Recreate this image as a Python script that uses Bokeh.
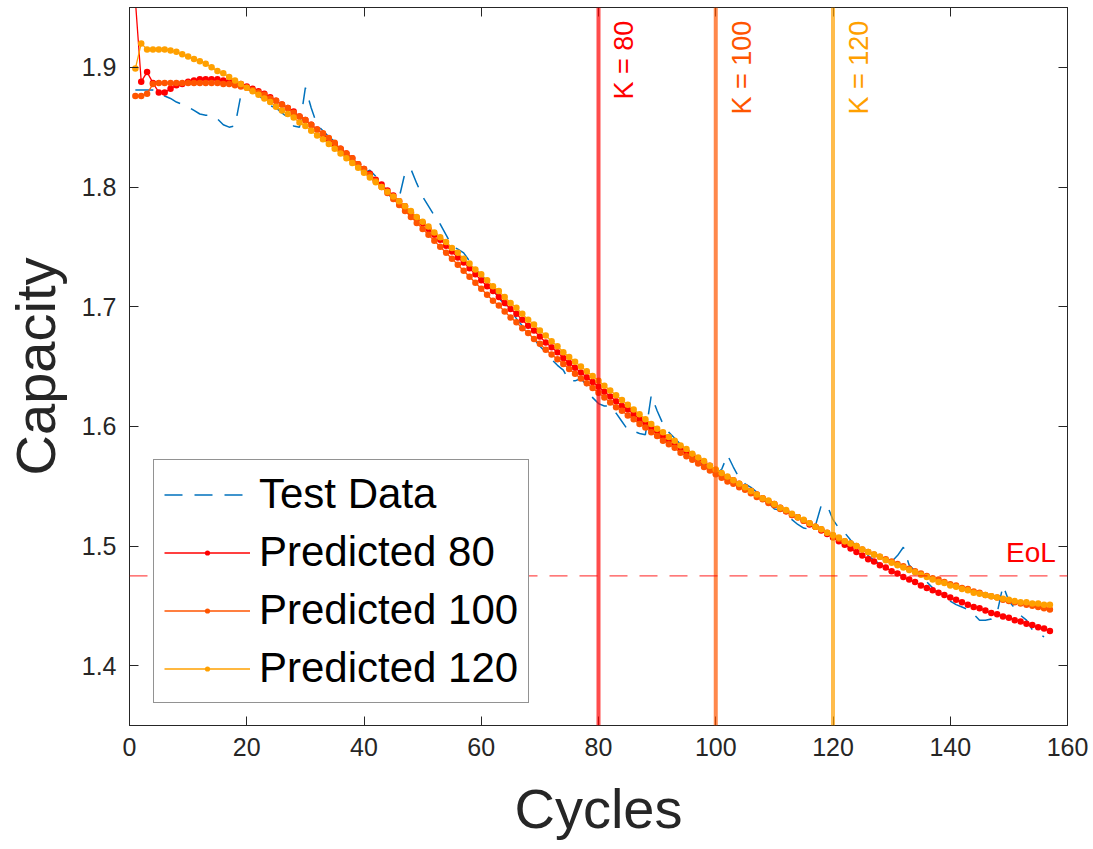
import math
from bokeh.plotting import figure
from bokeh.models import (Range1d, LinearAxis, Span, Legend, LegendItem, FixedTicker,
                          ColumnDataSource, CustomJSTickFormatter)
from bokeh.core.properties import value
from bokeh.embed import file_html
from bokeh.resources import INLINE

FONT = "Liberation Sans"
AX = "#262626"

# ---------------- data ----------------
test_cycles = list(range(1, 157))
test_capacity = [
    1.881, 1.881, 1.881, 1.881, 1.879, 1.876, 1.874, 1.871, 1.869, 1.867,
    1.864, 1.861, 1.860, 1.860, 1.857, 1.852, 1.850, 1.851, 1.877, 1.882,
    1.880, 1.877, 1.872, 1.868, 1.866, 1.862, 1.858, 1.851, 1.850, 1.883,
    1.866, 1.852, 1.847, 1.842, 1.838, 1.833, 1.827, 1.821, 1.814, 1.812,
    1.814, 1.809, 1.803, 1.796, 1.788, 1.791, 1.812, 1.815, 1.803, 1.792,
    1.784, 1.776, 1.769, 1.760, 1.751, 1.748, 1.745, 1.738, 1.731, 1.727,
    1.721, 1.715, 1.707, 1.702, 1.697, 1.690, 1.684, 1.678, 1.673, 1.667,
    1.662, 1.656, 1.651, 1.647, 1.638, 1.638, 1.640, 1.634, 1.624, 1.619,
    1.617, 1.617, 1.611, 1.604, 1.597, 1.596, 1.594, 1.593, 1.626, 1.613,
    1.602, 1.595, 1.590, 1.585, 1.580, 1.575, 1.571, 1.567, 1.563, 1.560,
    1.564, 1.576, 1.566, 1.557, 1.552, 1.549, 1.545, 1.541, 1.536, 1.531,
    1.530, 1.527, 1.522, 1.518, 1.515, 1.514, 1.517, 1.534, 1.534, 1.522,
    1.515, 1.511, 1.505, 1.500, 1.496, 1.492, 1.488, 1.485, 1.485, 1.487,
    1.492, 1.499, 1.484, 1.479, 1.474, 1.470, 1.465, 1.459, 1.456, 1.454,
    1.451, 1.449, 1.447, 1.443, 1.438, 1.438, 1.439, 1.444, 1.467, 1.454,
    1.448, 1.442, 1.438, 1.430, 1.427, 1.424,
]

pred_cycles = list(range(1, 158))
pred_80 = [
    1.956, 1.888, 1.896, 1.887, 1.879, 1.879, 1.882, 1.885, 1.886, 1.888,
    1.889, 1.890, 1.890, 1.890, 1.890, 1.889, 1.888, 1.887, 1.886, 1.884,
    1.882, 1.880, 1.878, 1.875, 1.872, 1.869, 1.866, 1.863, 1.859, 1.856,
    1.852, 1.848, 1.844, 1.840, 1.836, 1.832, 1.828, 1.824, 1.819, 1.815,
    1.811, 1.806, 1.802, 1.797, 1.793, 1.788, 1.784, 1.779, 1.774, 1.770,
    1.765, 1.760, 1.756, 1.751, 1.746, 1.741, 1.737, 1.732, 1.727, 1.722,
    1.717, 1.713, 1.708, 1.703, 1.698, 1.694, 1.689, 1.684, 1.680, 1.675,
    1.670, 1.666, 1.662, 1.657, 1.653, 1.649, 1.645, 1.641, 1.637, 1.633,
    1.629, 1.625, 1.621, 1.617, 1.614, 1.610, 1.606, 1.603, 1.599, 1.596,
    1.592, 1.589, 1.586, 1.582, 1.579, 1.576, 1.573, 1.570, 1.567, 1.563,
    1.560, 1.557, 1.555, 1.552, 1.549, 1.546, 1.543, 1.540, 1.537, 1.535,
    1.532, 1.529, 1.526, 1.524, 1.521, 1.518, 1.516, 1.513, 1.510, 1.507,
    1.504, 1.501, 1.498, 1.495, 1.492, 1.489, 1.487, 1.484, 1.482, 1.479,
    1.477, 1.474, 1.472, 1.470, 1.467, 1.465, 1.463, 1.461, 1.459, 1.457,
    1.455, 1.453, 1.451, 1.449, 1.448, 1.446, 1.444, 1.443, 1.441, 1.440,
    1.438, 1.437, 1.435, 1.434, 1.432, 1.431, 1.429,
]
pred_100 = [
    1.876, 1.876, 1.878, 1.886, 1.887, 1.887, 1.887, 1.887, 1.887, 1.887,
    1.887, 1.887, 1.887, 1.887, 1.887, 1.886, 1.886, 1.885, 1.884, 1.883,
    1.881, 1.879, 1.877, 1.874, 1.872, 1.869, 1.866, 1.862, 1.859, 1.856,
    1.852, 1.848, 1.845, 1.841, 1.837, 1.832, 1.828, 1.824, 1.819, 1.815,
    1.810, 1.805, 1.800, 1.795, 1.790, 1.785, 1.780, 1.775, 1.770, 1.765,
    1.760, 1.755, 1.750, 1.745, 1.740, 1.735, 1.730, 1.725, 1.720, 1.715,
    1.710, 1.705, 1.701, 1.696, 1.691, 1.687, 1.682, 1.678, 1.673, 1.669,
    1.664, 1.660, 1.656, 1.652, 1.648, 1.644, 1.640, 1.636, 1.632, 1.628,
    1.624, 1.620, 1.616, 1.613, 1.609, 1.606, 1.602, 1.599, 1.595, 1.592,
    1.588, 1.585, 1.582, 1.578, 1.575, 1.572, 1.569, 1.566, 1.563, 1.560,
    1.557, 1.554, 1.552, 1.549, 1.547, 1.544, 1.541, 1.539, 1.536, 1.534,
    1.531, 1.529, 1.526, 1.524, 1.521, 1.519, 1.516, 1.514, 1.511, 1.509,
    1.506, 1.504, 1.502, 1.500, 1.497, 1.495, 1.493, 1.491, 1.489, 1.487,
    1.485, 1.483, 1.481, 1.479, 1.477, 1.475, 1.473, 1.472, 1.470, 1.468,
    1.467, 1.465, 1.464, 1.462, 1.461, 1.459, 1.458, 1.457, 1.455, 1.454,
    1.453, 1.452, 1.451, 1.450, 1.449, 1.448, 1.447,
]
pred_120 = [
    1.899, 1.920, 1.915, 1.915, 1.915, 1.915, 1.914, 1.913, 1.911, 1.909,
    1.907, 1.905, 1.903, 1.900, 1.897, 1.895, 1.892, 1.889, 1.886, 1.883,
    1.880, 1.877, 1.874, 1.871, 1.867, 1.864, 1.861, 1.858, 1.854, 1.851,
    1.847, 1.843, 1.840, 1.836, 1.832, 1.828, 1.824, 1.820, 1.816, 1.812,
    1.808, 1.804, 1.800, 1.796, 1.792, 1.788, 1.784, 1.780, 1.775, 1.771,
    1.767, 1.762, 1.758, 1.754, 1.749, 1.745, 1.740, 1.736, 1.731, 1.727,
    1.722, 1.717, 1.713, 1.708, 1.703, 1.699, 1.694, 1.689, 1.685, 1.680,
    1.676, 1.671, 1.667, 1.662, 1.658, 1.654, 1.650, 1.646, 1.642, 1.638,
    1.634, 1.630, 1.626, 1.622, 1.618, 1.614, 1.610, 1.606, 1.602, 1.598,
    1.595, 1.591, 1.588, 1.584, 1.581, 1.577, 1.574, 1.571, 1.567, 1.564,
    1.561, 1.558, 1.555, 1.552, 1.549, 1.546, 1.543, 1.540, 1.538, 1.535,
    1.532, 1.530, 1.527, 1.524, 1.522, 1.519, 1.516, 1.514, 1.511, 1.509,
    1.507, 1.504, 1.502, 1.500, 1.497, 1.495, 1.493, 1.491, 1.488, 1.486,
    1.484, 1.482, 1.480, 1.478, 1.476, 1.474, 1.472, 1.470, 1.469, 1.467,
    1.466, 1.464, 1.463, 1.461, 1.460, 1.459, 1.458, 1.457, 1.456, 1.455,
    1.454, 1.453, 1.453, 1.452, 1.452, 1.451, 1.451,
]

k_values = [80, 100, 120]
k_labels = ["K = 80", "K = 100", "K = 120"]
eol_capacity = 1.475
eol_label = "EoL"

series_names = ["Predicted 80", "Predicted 100", "Predicted 120"]
series_colors = ["#FF0000", "#FF5500", "#FFA000"]
test_color = "#0072BD"

x_ticks = [0, 20, 40, 60, 80, 100, 120, 140, 160]
y_ticks = [1.4, 1.5, 1.6, 1.7, 1.8, 1.9]

# ---------------- figure ----------------
p = figure(width=1093, height=849, output_backend="svg", toolbar_location=None,
           x_range=Range1d(0, 160), y_range=Range1d(1.35, 1.95),
           min_border_left=128, min_border_right=26, min_border_top=7, min_border_bottom=124)
p.background_fill_color = "white"
p.border_fill_color = "white"
p.outline_line_color = AX
p.outline_line_width = 1
p.xgrid.visible = False
p.ygrid.visible = False

def style_axis(ax):
    ax.axis_line_color = AX
    ax.axis_line_width = 1
    ax.major_tick_line_color = AX
    ax.major_tick_in = 9
    ax.major_tick_out = 0
    ax.minor_tick_line_color = None
    ax.major_label_text_font = FONT
    ax.major_label_text_color = AX
    ax.major_label_text_font_size = "25px"
    ax.axis_label_text_font = FONT
    ax.axis_label_text_font_style = "normal"
    ax.axis_label_text_color = AX
    ax.axis_label_text_font_size = "56px"

p.xaxis.ticker = FixedTicker(ticks=x_ticks)
p.yaxis.ticker = FixedTicker(ticks=y_ticks)
p.xaxis.axis_label = "Cycles"
p.yaxis.axis_label = "Capacity"
style_axis(p.xaxis[0])
style_axis(p.yaxis[0])
p.xaxis.major_label_standoff = 12
p.yaxis.major_label_standoff = 13
p.xaxis.axis_label_standoff = 18
p.yaxis.axis_label_standoff = 12

# box ticks on top and right (no labels)
blank = CustomJSTickFormatter(code="return ''")
top_ax = LinearAxis(ticker=FixedTicker(ticks=x_ticks), formatter=blank)
style_axis(top_ax)
top_ax.major_label_standoff = 0
right_ax = LinearAxis(ticker=FixedTicker(ticks=y_ticks), formatter=blank)
style_axis(right_ax)
right_ax.major_label_standoff = 0
p.add_layout(top_ax, "above")
p.add_layout(right_ax, "right")

# ---------------- glyphs ----------------
r_test = p.line(test_cycles, test_capacity, line_color=test_color, line_width=1.5,
                line_dash="18 12")

legend_items = [LegendItem(label="Test Data", renderers=[r_test])]
for name, col, vals in zip(series_names, series_colors, [pred_80, pred_100, pred_120]):
    src = ColumnDataSource(dict(x=pred_cycles, y=vals))
    rl = p.line("x", "y", source=src, line_color=col, line_width=1.3)
    rs = p.scatter("x", "y", source=src, size=6.5, fill_color=col, line_color=None)
    legend_items.append(LegendItem(label=name, renderers=[rl, rs]))

# vertical K lines and labels
for k, lab, col in zip(k_values, k_labels, series_colors):
    p.add_layout(Span(location=k, dimension="height", line_color=col,
                      line_alpha=0.7, line_width=4))
p.text(x=[k + 4.4 for k in k_values], y=[1.939] * 3, text=k_labels,
       angle=math.pi / 2, text_align="right", text_baseline="middle",
       text_color=series_colors, text_font=value(FONT), text_font_size="27px")

# EoL
p.add_layout(Span(location=eol_capacity, dimension="width", line_color="#FF0000",
                  line_alpha=0.7, line_width=1.3, line_dash="18 12"))
p.text(x=[158], y=[1.4945], text=[eol_label], text_align="right",
       text_baseline="alphabetic", text_color="#FF0000", text_font=value(FONT),
       text_font_size="28px")

legend = Legend(items=legend_items, location=(24, 22))
legend.label_text_font = FONT
legend.label_text_font_size = "42px"
legend.label_text_color = "#000000"
legend.glyph_width = 86
legend.glyph_height = 13
legend.label_standoff = 9
legend.spacing = 10
legend.padding = 10
legend.margin = 0
legend.border_line_color = "#262626"
legend.border_line_width = 1
legend.background_fill_color = "white"
legend.background_fill_alpha = 1.0
p.add_layout(legend)

open("out.html", "w").write(file_html(p, INLINE))
